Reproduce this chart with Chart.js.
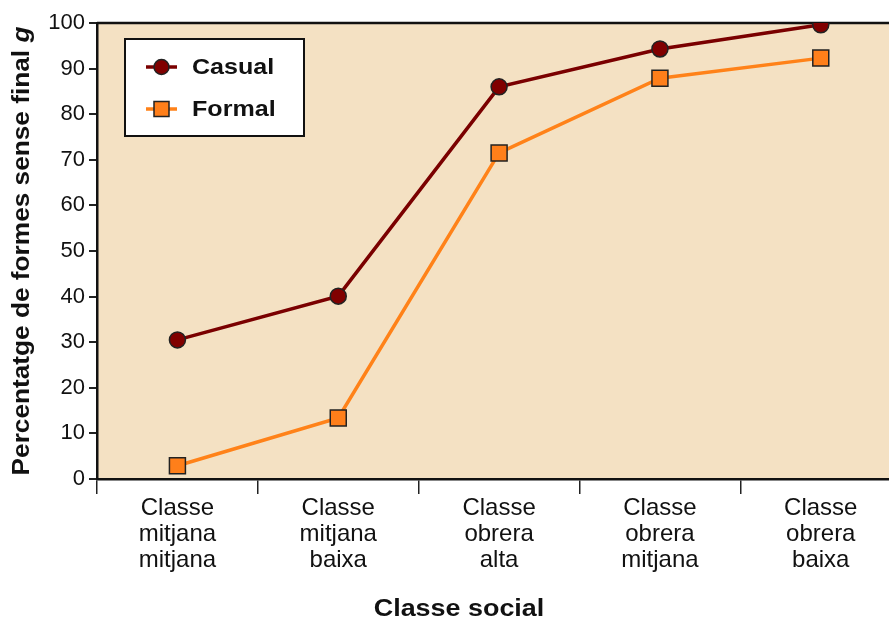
<!DOCTYPE html>
<html><head><meta charset="utf-8">
<script src="https://cdn.jsdelivr.net/npm/chart.js@4/dist/chart.umd.min.js"></script>
<style>html,body{margin:0;padding:0;background:#fff;overflow:hidden;width:889px;height:623px}
#wrap{position:relative;width:914px;height:623px}</style>
</head><body><div id="wrap"><canvas id="c" width="914" height="623" style="width:914px;height:623px"></canvas></div>
<script>
const categories = [["Classe","mitjana","mitjana"],["Classe","mitjana","baixa"],["Classe","obrera","alta"],["Classe","obrera","mitjana"],["Classe","obrera","baixa"]];
const casual = [30.5, 40.1, 86.0, 94.3, 99.6];
const formal = [2.9, 13.4, 71.5, 87.9, 92.3];
const seriesNames = ["Casual", "Formal"];
const yTicks = [0,10,20,30,40,50,60,70,80,90,100];
const xTitle = "Classe social";
const yTitleMain = "Percentatge de formes sense final ";
const yTitleItalic = "g";

const FONT = "'Liberation Sans', Arial, sans-serif";
const SX = 1.14;

const bgPlugin = {
  id: 'bg',
  beforeDraw(chart) {
    const {ctx, chartArea: a} = chart;
    ctx.save();
    ctx.fillStyle = '#F4E1C3';
    ctx.fillRect(a.left, a.top, a.right - a.left, a.bottom - a.top);
    ctx.strokeStyle = '#111';
    ctx.lineWidth = 2.5;
    ctx.beginPath();
    ctx.moveTo(a.left, a.top); ctx.lineTo(a.right, a.top);
    ctx.stroke();
    ctx.restore();
  },
  afterDraw(chart) {
    const {ctx, chartArea: a} = chart;
    ctx.save();
    ctx.translate(23, (a.top + a.bottom) / 2);
    ctx.rotate(-Math.PI / 2);
    ctx.scale(SX, 1);
    ctx.fillStyle = '#111';
    ctx.textBaseline = 'middle';
    const f1 = "bold 23px " + FONT, f2 = "italic bold 23px " + FONT;
    ctx.font = f1; const w1 = ctx.measureText(yTitleMain).width;
    ctx.font = f2; const w2 = ctx.measureText(yTitleItalic).width;
    let x0 = -(w1 + w2) / 2;
    ctx.font = f1; ctx.textAlign = 'left'; ctx.fillText(yTitleMain, x0, 0);
    ctx.font = f2; ctx.fillText(yTitleItalic, x0 + w1, 0);
    ctx.restore();
    ctx.save();
    ctx.translate(459, 610);
    ctx.scale(1.17, 1);
    ctx.fillStyle = '#111';
    ctx.font = "bold 23px " + FONT;
    ctx.textAlign = 'center'; ctx.textBaseline = 'middle';
    ctx.fillText(xTitle, 0, 0);
    ctx.restore();
    ctx.save();
    const bx = 125, by = 39, bw = 179, bh = 97;
    ctx.fillStyle = '#fff'; ctx.fillRect(bx, by, bw, bh);
    ctx.strokeStyle = '#111'; ctx.lineWidth = 2; ctx.strokeRect(bx, by, bw, bh);
    chart.data.datasets.forEach((ds, i) => {
      const y = 67 + i * 42;
      ctx.strokeStyle = ds.borderColor; ctx.lineWidth = 3.5;
      ctx.beginPath(); ctx.moveTo(146, y); ctx.lineTo(177, y); ctx.stroke();
      ctx.fillStyle = ds.pointBackgroundColor; ctx.strokeStyle = '#222'; ctx.lineWidth = 1.5;
      if (ds.pointStyle === 'circle') { ctx.beginPath(); ctx.arc(161.5, y, 7.5, 0, Math.PI * 2); ctx.fill(); ctx.stroke(); }
      else { ctx.fillRect(154, y - 7.5, 15, 15); ctx.strokeRect(154, y - 7.5, 15, 15); }
      ctx.save();
      ctx.translate(192, y + 1);
      ctx.scale(SX, 1);
      ctx.fillStyle = '#111'; ctx.font = "bold 22px " + FONT; ctx.textBaseline = 'middle'; ctx.textAlign = 'left';
      ctx.fillText(ds.label, 0, 0);
      ctx.restore();
    });
    ctx.restore();
  }
};

const chart = new Chart(document.getElementById('c'), {
  type: 'line',
  data: {
    labels: categories,
    datasets: [
      { label: seriesNames[0], data: casual, borderColor: '#7A0000', backgroundColor: '#7A0000', pointBackgroundColor: '#800000', pointBorderColor: '#222', pointBorderWidth: 1.5, pointStyle: 'circle', pointRadius: 8, borderWidth: 3.5, tension: 0 },
      { label: seriesNames[1], data: formal, borderColor: '#FF8219', backgroundColor: '#FF8219', pointBackgroundColor: '#FF7F1A', pointBorderColor: '#222', pointBorderWidth: 1.5, pointStyle: 'rect', pointRadius: 11.3, borderWidth: 3.5, tension: 0 }
    ]
  },
  options: {
    responsive: false, animation: false,
    layout: { padding: { left: 0, top: 23, right: 3, bottom: 0 } },
    plugins: { legend: { display: false }, tooltip: { enabled: false } },
    scales: {
      x: {
        offset: true,
        grid: { offset: true, drawOnChartArea: false, tickLength: 15, color: '#222', lineWidth: 1.5 },
        border: { color: '#111', width: 2.5 },
        ticks: { color: '#111', font: { family: FONT, size: 24, lineHeight: 1.07 }, padding: 2, maxRotation: 0, autoSkip: false },
        title: { display: false },
        afterFit(s) { s.height = 144; }
      },
      y: {
        min: 0, max: 100,
        afterBuildTicks(s) { s.ticks = yTicks.map(v => ({ value: v })); },
        grid: { drawOnChartArea: false, tickLength: 8, color: '#222', lineWidth: 2 },
        border: { color: '#111', width: 2.5 },
        ticks: { color: '#111', font: { family: FONT, size: 22 }, padding: 4 },
        afterFit(s) { s.width = 97; }
      }
    }
  }
  ,plugins: [bgPlugin]
});
</script></body></html>
